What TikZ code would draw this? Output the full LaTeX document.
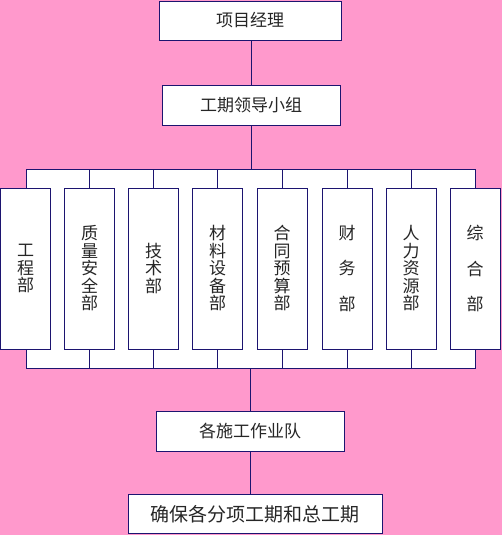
\documentclass[tikz,border=0pt]{standalone}
\usepackage{fontspec}
\setmainfont{Noto Sans CJK SC}
\usepackage{xcolor}
\usepackage{tikz}
\definecolor{bg}{HTML}{FF99CC}
\definecolor{line}{HTML}{1C1470}
\definecolor{ink}{HTML}{262626}
\tikzset{
  hbox/.style={draw=line, fill=white, line width=0.9pt, text=ink, inner sep=0pt, minimum height=39pt, font=\fontsize{17}{17}\selectfont},
  vbox/.style={draw=line, fill=white, line width=0.9pt, text=ink, inner sep=0pt, minimum width=50pt, minimum height=161pt, align=center, font=\fontsize{17}{17.5}\selectfont},
  link/.style={draw=line, line width=0.9pt},
  backdrop/.style={draw=line, fill=white, line width=0.9pt}
}

\begin{document}
\begin{tikzpicture}[x=1pt, y=1pt]
  \fill[bg] (0,0) rectangle (502,535);
  \useasboundingbox (0,0) rectangle (502,535);

  \coordinate (busL) at (26,167);
  \coordinate (busR) at (475.5,366);

  \draw[backdrop] (busL) rectangle (busR);

  \node[hbox, minimum width=182pt] (pm) at (250,514.5) {项目经理};
  \node[hbox, minimum width=178pt, minimum height=40pt] (grp) at (251,430) {工期领导小组};

  \node[vbox] (d1) at (25.5,266.5) {工\\程\\部};
  \node[vbox] (d2) at (89.5,266.5) {质\\量\\安\\全\\部};
  \node[vbox] (d3) at (153.5,266.5) {技\\术\\部};
  \node[vbox] (d4) at (217.5,266.5) {材\\料\\设\\备\\部};
  \node[vbox] (d5) at (282,266.5) {合\\同\\预\\算\\部};
  \node[vbox] (d6) at (347,266.5) {财\\[18pt]务\\[18pt]部};
  \node[vbox] (d7) at (411,266.5) {人\\力\\资\\源\\部};
  \node[vbox] (d8) at (475,266.5) {综\\[18pt]合\\[18pt]部};

  \node[hbox, minimum width=188pt, minimum height=40pt] (team) at (250,104) {各施工作业队};
  \node[hbox, minimum width=254pt, font=\fontsize{19}{19}\selectfont] (goal) at (255,21) {确保各分项工期和总工期};

  \draw[link] (pm.south -| grp.north) -- (grp.north);
  \draw[link] (grp.south) -- (grp.south |- busR);
  \draw[link] (team.north) -- (team.north |- busL);
  \draw[link] (team.south) -- (team.south |- goal.north);

  \foreach \d in {d2,d3,d4,d5,d6,d7} {
    \draw[link] (\d.north) -- (\d.north |- busR);
    \draw[link] (\d.south) -- (\d.south |- busL);
  }
\end{tikzpicture}
\end{document}
